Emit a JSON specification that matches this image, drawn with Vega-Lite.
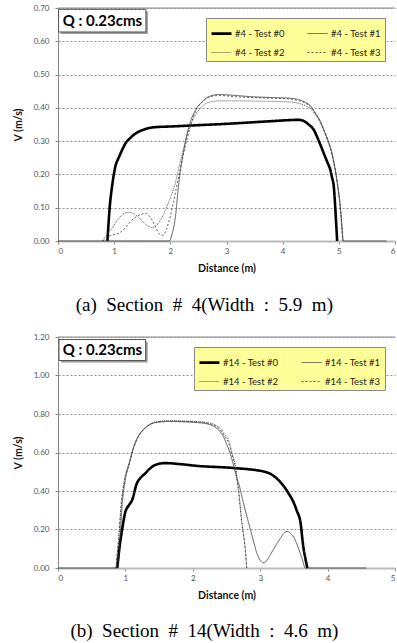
{
  "$schema": "https://vega.github.io/schema/vega-lite/v6.json",
  "background": "white",
  "padding": {"left": 13, "top": 4, "right": 0, "bottom": 0},
  "config": {
    "font": "Lato",
    "view": {"stroke": null},
    "concat": {"spacing": 18},
    "axis": {"labelFont": "Lato", "labelFontSize": 8, "labelColor": "#555", "titleFont": "Lato", "titleFontSize": 10.5, "titleFontWeight": "bold", "titleColor": "#111", "domainColor": "#888", "tickColor": "#888", "tickSize": 3, "grid": false, "labelOverlap": false},
    "axisY": {"grid": true, "gridDash": [2, 2], "gridColor": "#777", "gridWidth": 0.8, "titlePadding": 10, "labelPadding": 6},
    "axisX": {"domainColor": "#bbb", "domainWidth": 2, "titlePadding": 8, "labelPadding": 3},
    "legend": {"orient": "top-right", "offset": 10, "columns": 2, "direction": "horizontal", "fillColor": "#ffff99", "strokeColor": "#888", "padding": 4, "symbolType": "stroke", "symbolSize": 400, "labelFont": "Lato", "labelFontSize": 9.5, "labelColor": "#222", "columnPadding": 20, "rowPadding": 3, "labelOffset": 2, "title": null}
  },
  "datasets": {
    "s4": [
      {"s": "#4 - Test #0", "d": 0.88, "v": 0}, {"s": "#4 - Test #0", "d": 0.92, "v": 0.1}, {"s": "#4 - Test #0", "d": 0.97, "v": 0.173}, {"s": "#4 - Test #0", "d": 1.02, "v": 0.223}, {"s": "#4 - Test #0", "d": 1.08, "v": 0.25}, {"s": "#4 - Test #0", "d": 1.14, "v": 0.273}, {"s": "#4 - Test #0", "d": 1.2, "v": 0.293}, {"s": "#4 - Test #0", "d": 1.29, "v": 0.31}, {"s": "#4 - Test #0", "d": 1.4, "v": 0.325}, {"s": "#4 - Test #0", "d": 1.5, "v": 0.333}, {"s": "#4 - Test #0", "d": 1.73, "v": 0.342}, {"s": "#4 - Test #0", "d": 2.0, "v": 0.344}, {"s": "#4 - Test #0", "d": 2.5, "v": 0.348}, {"s": "#4 - Test #0", "d": 3.0, "v": 0.352}, {"s": "#4 - Test #0", "d": 3.4, "v": 0.356}, {"s": "#4 - Test #0", "d": 3.8, "v": 0.36}, {"s": "#4 - Test #0", "d": 4.1, "v": 0.363}, {"s": "#4 - Test #0", "d": 4.29, "v": 0.364}, {"s": "#4 - Test #0", "d": 4.38, "v": 0.36}, {"s": "#4 - Test #0", "d": 4.47, "v": 0.349}, {"s": "#4 - Test #0", "d": 4.55, "v": 0.335}, {"s": "#4 - Test #0", "d": 4.61, "v": 0.314}, {"s": "#4 - Test #0", "d": 4.67, "v": 0.29}, {"s": "#4 - Test #0", "d": 4.73, "v": 0.264}, {"s": "#4 - Test #0", "d": 4.8, "v": 0.235}, {"s": "#4 - Test #0", "d": 4.85, "v": 0.213}, {"s": "#4 - Test #0", "d": 4.88, "v": 0.19}, {"s": "#4 - Test #0", "d": 4.91, "v": 0.164}, {"s": "#4 - Test #0", "d": 4.94, "v": 0.09}, {"s": "#4 - Test #0", "d": 4.97, "v": 0},
      {"s": "#4 - Test #1", "d": 0, "v": 0}, {"s": "#4 - Test #1", "d": 1.98, "v": 0}, {"s": "#4 - Test #1", "d": 2.03, "v": 0.02}, {"s": "#4 - Test #1", "d": 2.09, "v": 0.072}, {"s": "#4 - Test #1", "d": 2.15, "v": 0.173}, {"s": "#4 - Test #1", "d": 2.24, "v": 0.273}, {"s": "#4 - Test #1", "d": 2.33, "v": 0.343}, {"s": "#4 - Test #1", "d": 2.45, "v": 0.394}, {"s": "#4 - Test #1", "d": 2.57, "v": 0.419}, {"s": "#4 - Test #1", "d": 2.69, "v": 0.434}, {"s": "#4 - Test #1", "d": 2.87, "v": 0.44}, {"s": "#4 - Test #1", "d": 3.1, "v": 0.438}, {"s": "#4 - Test #1", "d": 3.4, "v": 0.434}, {"s": "#4 - Test #1", "d": 3.8, "v": 0.431}, {"s": "#4 - Test #1", "d": 4.12, "v": 0.429}, {"s": "#4 - Test #1", "d": 4.3, "v": 0.424}, {"s": "#4 - Test #1", "d": 4.4, "v": 0.417}, {"s": "#4 - Test #1", "d": 4.5, "v": 0.405}, {"s": "#4 - Test #1", "d": 4.58, "v": 0.385}, {"s": "#4 - Test #1", "d": 4.67, "v": 0.36}, {"s": "#4 - Test #1", "d": 4.73, "v": 0.335}, {"s": "#4 - Test #1", "d": 4.79, "v": 0.31}, {"s": "#4 - Test #1", "d": 4.88, "v": 0.262}, {"s": "#4 - Test #1", "d": 4.93, "v": 0.22}, {"s": "#4 - Test #1", "d": 4.97, "v": 0.18}, {"s": "#4 - Test #1", "d": 5.01, "v": 0.13}, {"s": "#4 - Test #1", "d": 5.04, "v": 0.08}, {"s": "#4 - Test #1", "d": 5.06, "v": 0.035}, {"s": "#4 - Test #1", "d": 5.08, "v": 0}, {"s": "#4 - Test #1", "d": 5.85, "v": 0},
      {"s": "#4 - Test #2", "d": 0.79, "v": 0}, {"s": "#4 - Test #2", "d": 0.85, "v": 0.015}, {"s": "#4 - Test #2", "d": 0.95, "v": 0.035}, {"s": "#4 - Test #2", "d": 1.05, "v": 0.06}, {"s": "#4 - Test #2", "d": 1.15, "v": 0.08}, {"s": "#4 - Test #2", "d": 1.26, "v": 0.086}, {"s": "#4 - Test #2", "d": 1.37, "v": 0.08}, {"s": "#4 - Test #2", "d": 1.5, "v": 0.06}, {"s": "#4 - Test #2", "d": 1.6, "v": 0.045}, {"s": "#4 - Test #2", "d": 1.68, "v": 0.04}, {"s": "#4 - Test #2", "d": 1.77, "v": 0.05}, {"s": "#4 - Test #2", "d": 1.85, "v": 0.07}, {"s": "#4 - Test #2", "d": 1.92, "v": 0.095}, {"s": "#4 - Test #2", "d": 2.0, "v": 0.13}, {"s": "#4 - Test #2", "d": 2.09, "v": 0.175}, {"s": "#4 - Test #2", "d": 2.15, "v": 0.22}, {"s": "#4 - Test #2", "d": 2.24, "v": 0.28}, {"s": "#4 - Test #2", "d": 2.33, "v": 0.335}, {"s": "#4 - Test #2", "d": 2.45, "v": 0.38}, {"s": "#4 - Test #2", "d": 2.57, "v": 0.405}, {"s": "#4 - Test #2", "d": 2.69, "v": 0.417}, {"s": "#4 - Test #2", "d": 2.87, "v": 0.421}, {"s": "#4 - Test #2", "d": 3.2, "v": 0.421}, {"s": "#4 - Test #2", "d": 3.6, "v": 0.42}, {"s": "#4 - Test #2", "d": 4.1, "v": 0.418}, {"s": "#4 - Test #2", "d": 4.3, "v": 0.413}, {"s": "#4 - Test #2", "d": 4.4, "v": 0.407}, {"s": "#4 - Test #2", "d": 4.5, "v": 0.396}, {"s": "#4 - Test #2", "d": 4.58, "v": 0.38}, {"s": "#4 - Test #2", "d": 4.67, "v": 0.355}, {"s": "#4 - Test #2", "d": 4.79, "v": 0.305}, {"s": "#4 - Test #2", "d": 4.88, "v": 0.258}, {"s": "#4 - Test #2", "d": 4.97, "v": 0.175}, {"s": "#4 - Test #2", "d": 5.03, "v": 0.09}, {"s": "#4 - Test #2", "d": 5.07, "v": 0},
      {"s": "#4 - Test #3", "d": 0.8, "v": 0}, {"s": "#4 - Test #3", "d": 0.88, "v": 0.012}, {"s": "#4 - Test #3", "d": 0.97, "v": 0.018}, {"s": "#4 - Test #3", "d": 1.1, "v": 0.025}, {"s": "#4 - Test #3", "d": 1.2, "v": 0.04}, {"s": "#4 - Test #3", "d": 1.3, "v": 0.06}, {"s": "#4 - Test #3", "d": 1.45, "v": 0.078}, {"s": "#4 - Test #3", "d": 1.56, "v": 0.083}, {"s": "#4 - Test #3", "d": 1.65, "v": 0.07}, {"s": "#4 - Test #3", "d": 1.73, "v": 0.045}, {"s": "#4 - Test #3", "d": 1.8, "v": 0.022}, {"s": "#4 - Test #3", "d": 1.86, "v": 0.017}, {"s": "#4 - Test #3", "d": 1.93, "v": 0.035}, {"s": "#4 - Test #3", "d": 2.0, "v": 0.075}, {"s": "#4 - Test #3", "d": 2.06, "v": 0.12}, {"s": "#4 - Test #3", "d": 2.12, "v": 0.17}, {"s": "#4 - Test #3", "d": 2.18, "v": 0.22}, {"s": "#4 - Test #3", "d": 2.26, "v": 0.28}, {"s": "#4 - Test #3", "d": 2.35, "v": 0.34}, {"s": "#4 - Test #3", "d": 2.45, "v": 0.39}, {"s": "#4 - Test #3", "d": 2.57, "v": 0.418}, {"s": "#4 - Test #3", "d": 2.69, "v": 0.432}, {"s": "#4 - Test #3", "d": 2.87, "v": 0.437}, {"s": "#4 - Test #3", "d": 3.2, "v": 0.433}, {"s": "#4 - Test #3", "d": 3.6, "v": 0.43}, {"s": "#4 - Test #3", "d": 4.1, "v": 0.427}, {"s": "#4 - Test #3", "d": 4.3, "v": 0.421}, {"s": "#4 - Test #3", "d": 4.4, "v": 0.415}, {"s": "#4 - Test #3", "d": 4.5, "v": 0.402}, {"s": "#4 - Test #3", "d": 4.58, "v": 0.384}, {"s": "#4 - Test #3", "d": 4.67, "v": 0.358}, {"s": "#4 - Test #3", "d": 4.79, "v": 0.31}, {"s": "#4 - Test #3", "d": 4.88, "v": 0.26}, {"s": "#4 - Test #3", "d": 4.97, "v": 0.178}, {"s": "#4 - Test #3", "d": 5.03, "v": 0.09}, {"s": "#4 - Test #3", "d": 5.07, "v": 0}
    ],
    "s14": [
      {"s": "#14 - Test #0", "d": 0.88, "v": 0}, {"s": "#14 - Test #0", "d": 0.91, "v": 0.1}, {"s": "#14 - Test #0", "d": 0.95, "v": 0.197}, {"s": "#14 - Test #0", "d": 1.0, "v": 0.292}, {"s": "#14 - Test #0", "d": 1.05, "v": 0.325}, {"s": "#14 - Test #0", "d": 1.1, "v": 0.353}, {"s": "#14 - Test #0", "d": 1.17, "v": 0.44}, {"s": "#14 - Test #0", "d": 1.23, "v": 0.47}, {"s": "#14 - Test #0", "d": 1.29, "v": 0.49}, {"s": "#14 - Test #0", "d": 1.36, "v": 0.515}, {"s": "#14 - Test #0", "d": 1.44, "v": 0.535}, {"s": "#14 - Test #0", "d": 1.59, "v": 0.545}, {"s": "#14 - Test #0", "d": 1.8, "v": 0.54}, {"s": "#14 - Test #0", "d": 2.08, "v": 0.53}, {"s": "#14 - Test #0", "d": 2.58, "v": 0.52}, {"s": "#14 - Test #0", "d": 3.07, "v": 0.5}, {"s": "#14 - Test #0", "d": 3.17, "v": 0.485}, {"s": "#14 - Test #0", "d": 3.27, "v": 0.457}, {"s": "#14 - Test #0", "d": 3.35, "v": 0.425}, {"s": "#14 - Test #0", "d": 3.42, "v": 0.388}, {"s": "#14 - Test #0", "d": 3.49, "v": 0.345}, {"s": "#14 - Test #0", "d": 3.54, "v": 0.3}, {"s": "#14 - Test #0", "d": 3.6, "v": 0.232}, {"s": "#14 - Test #0", "d": 3.62, "v": 0.17}, {"s": "#14 - Test #0", "d": 3.64, "v": 0.11}, {"s": "#14 - Test #0", "d": 3.67, "v": 0.05}, {"s": "#14 - Test #0", "d": 3.7, "v": 0},
      {"s": "#14 - Test #1", "d": 0, "v": 0}, {"s": "#14 - Test #1", "d": 0.88, "v": 0}, {"s": "#14 - Test #1", "d": 0.92, "v": 0.15}, {"s": "#14 - Test #1", "d": 0.95, "v": 0.32}, {"s": "#14 - Test #1", "d": 1.0, "v": 0.46}, {"s": "#14 - Test #1", "d": 1.07, "v": 0.56}, {"s": "#14 - Test #1", "d": 1.15, "v": 0.655}, {"s": "#14 - Test #1", "d": 1.22, "v": 0.7}, {"s": "#14 - Test #1", "d": 1.3, "v": 0.73}, {"s": "#14 - Test #1", "d": 1.44, "v": 0.755}, {"s": "#14 - Test #1", "d": 1.64, "v": 0.761}, {"s": "#14 - Test #1", "d": 2.08, "v": 0.755}, {"s": "#14 - Test #1", "d": 2.25, "v": 0.745}, {"s": "#14 - Test #1", "d": 2.33, "v": 0.732}, {"s": "#14 - Test #1", "d": 2.4, "v": 0.71}, {"s": "#14 - Test #1", "d": 2.45, "v": 0.685}, {"s": "#14 - Test #1", "d": 2.5, "v": 0.645}, {"s": "#14 - Test #1", "d": 2.55, "v": 0.6}, {"s": "#14 - Test #1", "d": 2.6, "v": 0.54}, {"s": "#14 - Test #1", "d": 2.65, "v": 0.47}, {"s": "#14 - Test #1", "d": 2.68, "v": 0.44}, {"s": "#14 - Test #1", "d": 2.75, "v": 0.34}, {"s": "#14 - Test #1", "d": 2.83, "v": 0.232}, {"s": "#14 - Test #1", "d": 2.9, "v": 0.14}, {"s": "#14 - Test #1", "d": 2.95, "v": 0.077}, {"s": "#14 - Test #1", "d": 3.0, "v": 0.04}, {"s": "#14 - Test #1", "d": 3.05, "v": 0.026}, {"s": "#14 - Test #1", "d": 3.1, "v": 0.04}, {"s": "#14 - Test #1", "d": 3.16, "v": 0.075}, {"s": "#14 - Test #1", "d": 3.22, "v": 0.11}, {"s": "#14 - Test #1", "d": 3.3, "v": 0.155}, {"s": "#14 - Test #1", "d": 3.35, "v": 0.18}, {"s": "#14 - Test #1", "d": 3.4, "v": 0.19}, {"s": "#14 - Test #1", "d": 3.45, "v": 0.18}, {"s": "#14 - Test #1", "d": 3.52, "v": 0.145}, {"s": "#14 - Test #1", "d": 3.57, "v": 0.1}, {"s": "#14 - Test #1", "d": 3.62, "v": 0.05}, {"s": "#14 - Test #1", "d": 3.67, "v": 0}, {"s": "#14 - Test #1", "d": 4.57, "v": 0},
      {"s": "#14 - Test #2", "d": 0.86, "v": 0}, {"s": "#14 - Test #2", "d": 0.9, "v": 0.15}, {"s": "#14 - Test #2", "d": 0.94, "v": 0.33}, {"s": "#14 - Test #2", "d": 0.98, "v": 0.45}, {"s": "#14 - Test #2", "d": 1.05, "v": 0.54}, {"s": "#14 - Test #2", "d": 1.12, "v": 0.63}, {"s": "#14 - Test #2", "d": 1.2, "v": 0.69}, {"s": "#14 - Test #2", "d": 1.3, "v": 0.73}, {"s": "#14 - Test #2", "d": 1.44, "v": 0.758}, {"s": "#14 - Test #2", "d": 1.64, "v": 0.765}, {"s": "#14 - Test #2", "d": 2.08, "v": 0.76}, {"s": "#14 - Test #2", "d": 2.25, "v": 0.753}, {"s": "#14 - Test #2", "d": 2.35, "v": 0.74}, {"s": "#14 - Test #2", "d": 2.42, "v": 0.72}, {"s": "#14 - Test #2", "d": 2.48, "v": 0.69}, {"s": "#14 - Test #2", "d": 2.53, "v": 0.665}, {"s": "#14 - Test #2", "d": 2.58, "v": 0.6}, {"s": "#14 - Test #2", "d": 2.63, "v": 0.535}, {"s": "#14 - Test #2", "d": 2.68, "v": 0.405}, {"s": "#14 - Test #2", "d": 2.73, "v": 0.232}, {"s": "#14 - Test #2", "d": 2.78, "v": 0.093}, {"s": "#14 - Test #2", "d": 2.8, "v": 0},
      {"s": "#14 - Test #3", "d": 0.86, "v": 0}, {"s": "#14 - Test #3", "d": 0.9, "v": 0.16}, {"s": "#14 - Test #3", "d": 0.94, "v": 0.34}, {"s": "#14 - Test #3", "d": 0.98, "v": 0.44}, {"s": "#14 - Test #3", "d": 1.05, "v": 0.53}, {"s": "#14 - Test #3", "d": 1.12, "v": 0.62}, {"s": "#14 - Test #3", "d": 1.2, "v": 0.685}, {"s": "#14 - Test #3", "d": 1.3, "v": 0.728}, {"s": "#14 - Test #3", "d": 1.44, "v": 0.756}, {"s": "#14 - Test #3", "d": 1.64, "v": 0.763}, {"s": "#14 - Test #3", "d": 2.08, "v": 0.758}, {"s": "#14 - Test #3", "d": 2.25, "v": 0.75}, {"s": "#14 - Test #3", "d": 2.35, "v": 0.735}, {"s": "#14 - Test #3", "d": 2.42, "v": 0.712}, {"s": "#14 - Test #3", "d": 2.48, "v": 0.68}, {"s": "#14 - Test #3", "d": 2.53, "v": 0.65}, {"s": "#14 - Test #3", "d": 2.58, "v": 0.59}, {"s": "#14 - Test #3", "d": 2.63, "v": 0.52}, {"s": "#14 - Test #3", "d": 2.68, "v": 0.39}, {"s": "#14 - Test #3", "d": 2.73, "v": 0.225}, {"s": "#14 - Test #3", "d": 2.78, "v": 0.09}, {"s": "#14 - Test #3", "d": 2.8, "v": 0}
    ]
  },
  "resolve": {
    "scale": {"color": "independent", "strokeDash": "independent", "strokeWidth": "independent"},
    "legend": {"color": "independent", "strokeDash": "independent", "strokeWidth": "independent"}
  },
  "vconcat": [
    {
      "width": 337,
      "height": 233,
      "title": {"text": "(a)\u00a0 Section\u00a0 #\u00a0 4(Width\u00a0 :\u00a0 5.9\u00a0 m)", "orient": "bottom", "anchor": "middle", "frame": "bounds", "font": "Liberation Serif", "fontSize": 19, "fontWeight": "normal", "color": "#000", "offset": 22},
      "layer": [
        {
          "data": {"name": "s4"},
          "mark": {"type": "line", "interpolate": "monotone"},
          "encoding": {
            "x": {"field": "d", "type": "quantitative", "scale": {"domain": [0, 6], "nice": false}, "axis": {"values": [0, 1, 2, 3, 4, 5, 6], "format": "d", "title": "Distance (m)"}},
            "y": {"field": "v", "type": "quantitative", "scale": {"domain": [0, 0.7], "nice": false}, "axis": {"values": [0, 0.1, 0.2, 0.3, 0.4, 0.5, 0.6, 0.7], "format": ".2f", "title": "V (m/s)"}},
            "color": {"field": "s", "type": "ordinal", "scale": {"type": "ordinal", "domain": ["#4 - Test #0", "#4 - Test #1", "#4 - Test #2", "#4 - Test #3"], "range": ["#000000", "#333333", "#555555", "#333333"]}},
            "strokeDash": {"field": "s", "type": "ordinal", "scale": {"type": "ordinal", "domain": ["#4 - Test #0", "#4 - Test #1", "#4 - Test #2", "#4 - Test #3"], "range": [[1, 0], [1, 0], [1, 1], [2, 2]]}},
            "strokeWidth": {"field": "s", "type": "ordinal", "scale": {"type": "ordinal", "domain": ["#4 - Test #0", "#4 - Test #1", "#4 - Test #2", "#4 - Test #3"], "range": [2.6, 0.8, 1, 0.8]}}
          }
        },
        {"data": {"values": [{}]}, "mark": {"type": "rule", "color": "#888", "strokeWidth": 1}, "encoding": {"y": {"datum": 0.7, "type": "quantitative", "axis": {"values": [0, 0.1, 0.2, 0.3, 0.4, 0.5, 0.6, 0.7], "format": ".2f", "title": "V (m/s)"}}}},
        {"data": {"values": [{}]}, "mark": {"type": "rect", "fill": "#999"}, "encoding": {"x": {"datum": 0.046, "type": "quantitative", "axis": {"values": [0, 1, 2, 3, 4, 5, 6], "format": "d", "title": "Distance (m)"}}, "x2": {"datum": 1.6}, "y": {"datum": 0.622, "type": "quantitative", "axis": {"values": [0, 0.1, 0.2, 0.3, 0.4, 0.5, 0.6, 0.7], "format": ".2f", "title": "V (m/s)"}}, "y2": {"datum": 0.69}}},
        {"data": {"values": [{}]}, "mark": {"type": "rect", "fill": "white", "stroke": "#555", "strokeWidth": 1}, "encoding": {"x": {"datum": 0.01, "type": "quantitative", "axis": {"values": [0, 1, 2, 3, 4, 5, 6], "format": "d", "title": "Distance (m)"}}, "x2": {"datum": 1.565}, "y": {"datum": 0.628, "type": "quantitative", "axis": {"values": [0, 0.1, 0.2, 0.3, 0.4, 0.5, 0.6, 0.7], "format": ".2f", "title": "V (m/s)"}}, "y2": {"datum": 0.696}}},
        {"data": {"values": [{}]}, "mark": {"type": "text", "text": "Q : 0.23cms", "font": "Lato", "fontSize": 15, "fontWeight": "bold", "color": "#000", "align": "center", "baseline": "middle"}, "encoding": {"x": {"datum": 0.79, "type": "quantitative", "axis": {"values": [0, 1, 2, 3, 4, 5, 6], "format": "d", "title": "Distance (m)"}}, "y": {"datum": 0.662, "type": "quantitative", "axis": {"values": [0, 0.1, 0.2, 0.3, 0.4, 0.5, 0.6, 0.7], "format": ".2f", "title": "V (m/s)"}}}}
      ]
    },
    {
      "width": 337,
      "height": 231,
      "title": {"text": "(b)\u00a0 Section\u00a0 #\u00a0 14(Width\u00a0 :\u00a0 4.6\u00a0 m)", "orient": "bottom", "anchor": "middle", "frame": "bounds", "font": "Liberation Serif", "fontSize": 19, "fontWeight": "normal", "color": "#000", "offset": 21},
      "layer": [
        {
          "data": {"name": "s14"},
          "mark": {"type": "line", "interpolate": "monotone"},
          "encoding": {
            "x": {"field": "d", "type": "quantitative", "scale": {"domain": [0, 5], "nice": false}, "axis": {"values": [0, 1, 2, 3, 4, 5], "format": "d", "title": "Distance (m)"}},
            "y": {"field": "v", "type": "quantitative", "scale": {"domain": [0, 1.2], "nice": false}, "axis": {"values": [0, 0.2, 0.4, 0.6, 0.8, 1.0, 1.2], "format": ".2f", "title": "V (m/s)"}},
            "color": {"field": "s", "type": "ordinal", "scale": {"type": "ordinal", "domain": ["#14 - Test #0", "#14 - Test #1", "#14 - Test #2", "#14 - Test #3"], "range": ["#000000", "#333333", "#555555", "#333333"]}},
            "strokeDash": {"field": "s", "type": "ordinal", "scale": {"type": "ordinal", "domain": ["#14 - Test #0", "#14 - Test #1", "#14 - Test #2", "#14 - Test #3"], "range": [[1, 0], [1, 0], [1, 1], [2, 2]]}},
            "strokeWidth": {"field": "s", "type": "ordinal", "scale": {"type": "ordinal", "domain": ["#14 - Test #0", "#14 - Test #1", "#14 - Test #2", "#14 - Test #3"], "range": [2.6, 0.8, 1, 0.8]}}
          }
        },
        {"data": {"values": [{}]}, "mark": {"type": "rule", "color": "#888", "strokeWidth": 1}, "encoding": {"y": {"datum": 1.2, "type": "quantitative", "axis": {"values": [0, 0.2, 0.4, 0.6, 0.8, 1.0, 1.2], "format": ".2f", "title": "V (m/s)"}}}},
        {"data": {"values": [{}]}, "mark": {"type": "rect", "fill": "#999"}, "encoding": {"x": {"datum": 0.045, "type": "quantitative", "axis": {"values": [0, 1, 2, 3, 4, 5], "format": "d", "title": "Distance (m)"}}, "x2": {"datum": 1.33}, "y": {"datum": 1.068, "type": "quantitative", "axis": {"values": [0, 0.2, 0.4, 0.6, 0.8, 1.0, 1.2], "format": ".2f", "title": "V (m/s)"}}, "y2": {"datum": 1.177}}},
        {"data": {"values": [{}]}, "mark": {"type": "rect", "fill": "white", "stroke": "#555", "strokeWidth": 1}, "encoding": {"x": {"datum": 0.015, "type": "quantitative", "axis": {"values": [0, 1, 2, 3, 4, 5], "format": "d", "title": "Distance (m)"}}, "x2": {"datum": 1.3}, "y": {"datum": 1.078, "type": "quantitative", "axis": {"values": [0, 0.2, 0.4, 0.6, 0.8, 1.0, 1.2], "format": ".2f", "title": "V (m/s)"}}, "y2": {"datum": 1.187}}},
        {"data": {"values": [{}]}, "mark": {"type": "text", "text": "Q : 0.23cms", "font": "Lato", "fontSize": 15, "fontWeight": "bold", "color": "#000", "align": "center", "baseline": "middle"}, "encoding": {"x": {"datum": 0.66, "type": "quantitative", "axis": {"values": [0, 1, 2, 3, 4, 5], "format": "d", "title": "Distance (m)"}}, "y": {"datum": 1.133, "type": "quantitative", "axis": {"values": [0, 0.2, 0.4, 0.6, 0.8, 1.0, 1.2], "format": ".2f", "title": "V (m/s)"}}}}
      ]
    }
  ]
}
